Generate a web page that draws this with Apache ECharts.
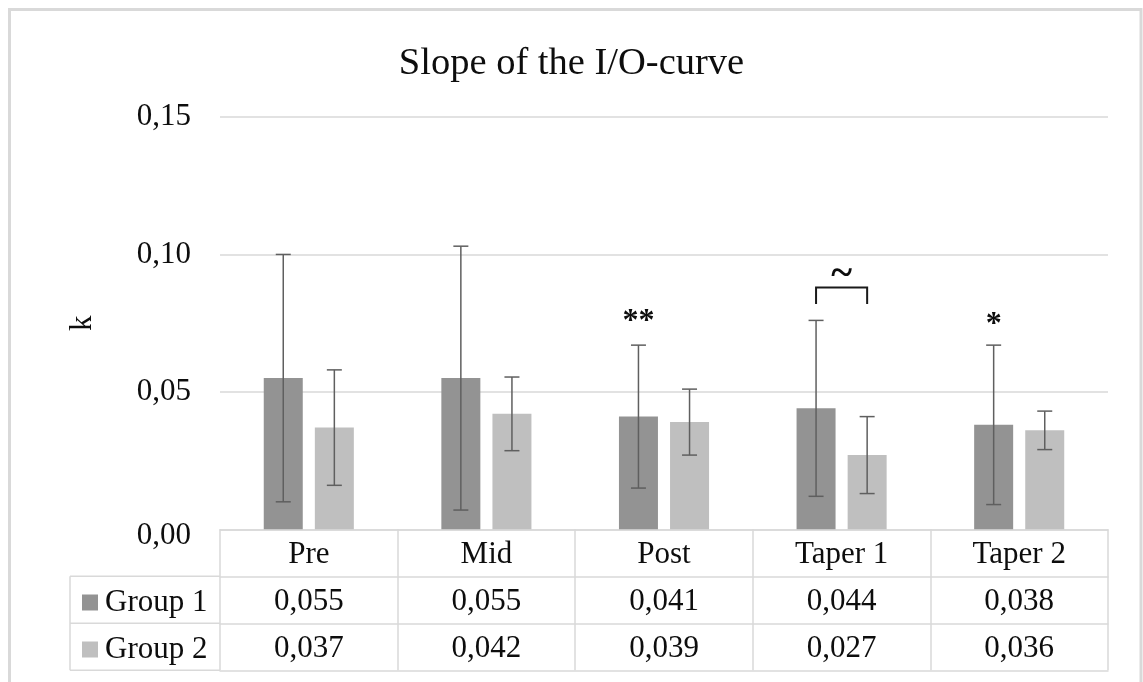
<!DOCTYPE html>
<html>
<head>
<meta charset="utf-8">
<script src="https://cdn.jsdelivr.net/npm/echarts@6/dist/echarts.min.js"></script>
<style>html,body{margin:0;padding:0;background:#fff}#c{width:1143px;height:682px}</style>
</head>
<body>
<div id="c"></div>
<script>
// ---- data ----
const categories = ['Pre', 'Mid', 'Post', 'Taper 1', 'Taper 2'];
const seriesNames = ['Group 1', 'Group 2'];
const group1 = [0.055, 0.055, 0.041, 0.044, 0.038];
const group2 = [0.037, 0.042, 0.039, 0.027, 0.036];
const group1Err = [0.045, 0.048, 0.026, 0.032, 0.029];
const group2Err = [0.021, 0.0134, 0.012, 0.014, 0.007];
const yTicks = [0, 0.05, 0.10, 0.15];
// significance marks: category index, group index, y value, text
const markCats = [2, 4];
const markGroups = [0, 0];
const markY = [0.0754, 0.0745];
const markTexts = ['**', '*'];
// bracket between groups in one category
const bracketCat = 3;
const bracketTop = 0.088;
const bracketFoot = 0.082;
const bracketLabel = '~';
const bracketLabelY = 0.0925;

// ---- style ----
const FONT = 'Liberation Serif';
const C1 = '#939393', C2 = '#bfbfbf';
const LINE = '#d9d9d9';
const TXT = '#0d0d0d';
const BAR_W = 39, BAR_GAP = 0.31;
const OFF = (BAR_W * 2 + BAR_W * BAR_GAP) / 2 - BAR_W / 2;
const ROW = 47;
const fmt = (v, d) => v.toFixed(d).replace('.', ',');

const chart = echarts.init(document.getElementById('c'));

function errSeries(vals, errs, dir) {
  return {
    type: 'custom',
    z: 5,
    silent: true,
    data: vals.map((v, i) => [i, v - errs[i], v + errs[i]]),
    encode: { x: 0, y: [1, 2] },
    renderItem: function (params, api) {
      const i = api.value(0);
      const x = api.coord([i, 0])[0] + dir * OFF;
      const lo = api.coord([i, api.value(1)])[1];
      const hi = api.coord([i, api.value(2)])[1];
      const st = { stroke: '#5f5f5f', lineWidth: 1.5 };
      return {
        type: 'group',
        children: [
          { type: 'line', shape: { x1: x, y1: lo, x2: x, y2: hi }, style: st },
          { type: 'line', shape: { x1: x - 7.5, y1: lo, x2: x + 7.5, y2: lo }, style: st },
          { type: 'line', shape: { x1: x - 7.5, y1: hi, x2: x + 7.5, y2: hi }, style: st }
        ]
      };
    }
  };
}

const tableAxis = (offset, values) => ({
  type: 'category',
  data: categories,
  position: 'bottom',
  offset: offset,
  axisLine: { show: true, lineStyle: { color: LINE, width: 1.5 } },
  axisTick: { show: false },
  axisLabel: values ? {
    show: true, interval: 0, margin: 26, verticalAlign: 'middle',
    fontFamily: FONT, fontSize: 31, color: TXT,
    formatter: (v, idx) => fmt(values[idx], 3)
  } : { show: false }
});

const option = {
  animation: false,
  backgroundColor: '#fff',
  title: {
    text: 'Slope of the I/O-curve',
    left: 'center',
    top: 39,
    textStyle: { fontFamily: FONT, fontSize: 38.5, fontWeight: 'normal', color: TXT }
  },
  legend: {
    orient: 'vertical',
    left: 82,
    top: 587,
    padding: 0,
    itemGap: 16,
    itemWidth: 16,
    itemHeight: 16,
    icon: 'rect',
    selectedMode: false,
    data: seriesNames,
    textStyle: { fontFamily: FONT, fontSize: 31, color: TXT, padding: [0, 0, 0, 2] }
  },
  grid: { left: 220, right: 35, top: 117, bottom: 152.7 },
  xAxis: [
    {
      type: 'category',
      data: categories,
      position: 'bottom',
      axisLine: { show: true, lineStyle: { color: LINE, width: 1.5 } },
      axisTick: { show: true, interval: 0, length: ROW * 3, lineStyle: { color: LINE, width: 1.5 } },
      axisLabel: { interval: 0, margin: 26, verticalAlign: 'middle', fontFamily: FONT, fontSize: 31, color: TXT }
    },
    tableAxis(ROW, group1),
    tableAxis(ROW * 2, group2),
    tableAxis(ROW * 3, null)
  ],
  yAxis: {
    type: 'value',
    min: 0, max: 0.15, interval: 0.05,
    name: 'k',
    nameLocation: 'middle',
    nameRotate: 90,
    nameGap: 122,
    nameTextStyle: { fontFamily: FONT, fontSize: 31, color: TXT },
    axisLine: { show: false },
    axisTick: { show: false },
    splitLine: { lineStyle: { color: LINE, width: 1.5 } },
    axisLabel: {
      margin: 29, fontFamily: FONT, fontSize: 31, color: TXT,
      formatter: v => v === 0 ? '{z|' + fmt(v, 2) + '}' : fmt(v, 2),
      rich: { z: { fontFamily: FONT, fontSize: 31, color: TXT, padding: [14, 0, 0, 0] } }
    }
  },
  series: [
    { name: seriesNames[0], type: 'bar', data: group1, barWidth: BAR_W, barGap: (BAR_GAP * 100) + '%', itemStyle: { color: C1 } },
    { name: seriesNames[1], type: 'bar', data: group2, barWidth: BAR_W, itemStyle: { color: C2 } },
    errSeries(group1, group1Err, -1),
    errSeries(group2, group2Err, 1),
    {
      type: 'custom', z: 6, silent: true,
      data: markCats.map((c, k) => [c, markY[k], markGroups[k], k]),
      encode: { x: 0, y: 1 },
      renderItem: function (params, api) {
        const k = api.value(3);
        const p = api.coord([api.value(0), api.value(1)]);
        const x = p[0] + (api.value(2) === 0 ? -OFF : OFF);
        return { type: 'text', x: x, y: p[1], style: { text: markTexts[k], fontFamily: FONT, fontSize: 32, fontWeight: 'bold', fill: TXT, align: 'center', verticalAlign: 'middle' } };
      }
    },
    {
      type: 'custom', z: 6, silent: true,
      data: [[bracketCat, bracketTop, bracketFoot, bracketLabelY]],
      encode: { x: 0, y: [1, 2, 3] },
      renderItem: function (params, api) {
        const c = api.value(0);
        const cx = api.coord([c, 0])[0];
        const yt = api.coord([c, api.value(1)])[1];
        const yf = api.coord([c, api.value(2)])[1];
        const yl = api.coord([c, api.value(3)])[1];
        const x1 = cx - OFF, x2 = cx + OFF;
        return {
          type: 'group',
          children: [
            { type: 'polyline', shape: { points: [[x1, yf], [x1, yt], [x2, yt], [x2, yf]] }, style: { stroke: '#1a1a1a', lineWidth: 2, fill: null } },
            { type: 'text', x: cx, y: yl, style: { text: bracketLabel, fontFamily: FONT, fontSize: 40, fontWeight: 'bold', fill: TXT, align: 'center', verticalAlign: 'middle' } }
          ]
        };
      }
    }
  ]
};
chart.setOption(option);

// table frame for the legend column, derived from the grid position
const y0 = chart.convertToPixel({ yAxisIndex: 0 }, 0);
const xL = chart.convertToPixel({ xAxisIndex: 0 }, 0) - (chart.convertToPixel({ xAxisIndex: 0 }, 1) - chart.convertToPixel({ xAxisIndex: 0 }, 0)) / 2;
const colLeft = 70;
const lineSt = { stroke: LINE, lineWidth: 1.5 };
chart.setOption({
  graphic: [
    { type: 'rect', shape: { x: 9.5, y: 9.5, width: 1131.5, height: 720 }, style: { fill: null, stroke: LINE, lineWidth: 3 }, silent: true },
    { type: 'line', shape: { x1: colLeft, y1: y0 + ROW, x2: xL, y2: y0 + ROW }, style: lineSt, silent: true },
    { type: 'line', shape: { x1: colLeft, y1: y0 + ROW * 2, x2: xL, y2: y0 + ROW * 2 }, style: lineSt, silent: true },
    { type: 'line', shape: { x1: colLeft, y1: y0 + ROW * 3, x2: xL, y2: y0 + ROW * 3 }, style: lineSt, silent: true },
    { type: 'line', shape: { x1: colLeft, y1: y0 + ROW, x2: colLeft, y2: y0 + ROW * 3 }, style: lineSt, silent: true }
  ]
});
</script>
</body>
</html>
